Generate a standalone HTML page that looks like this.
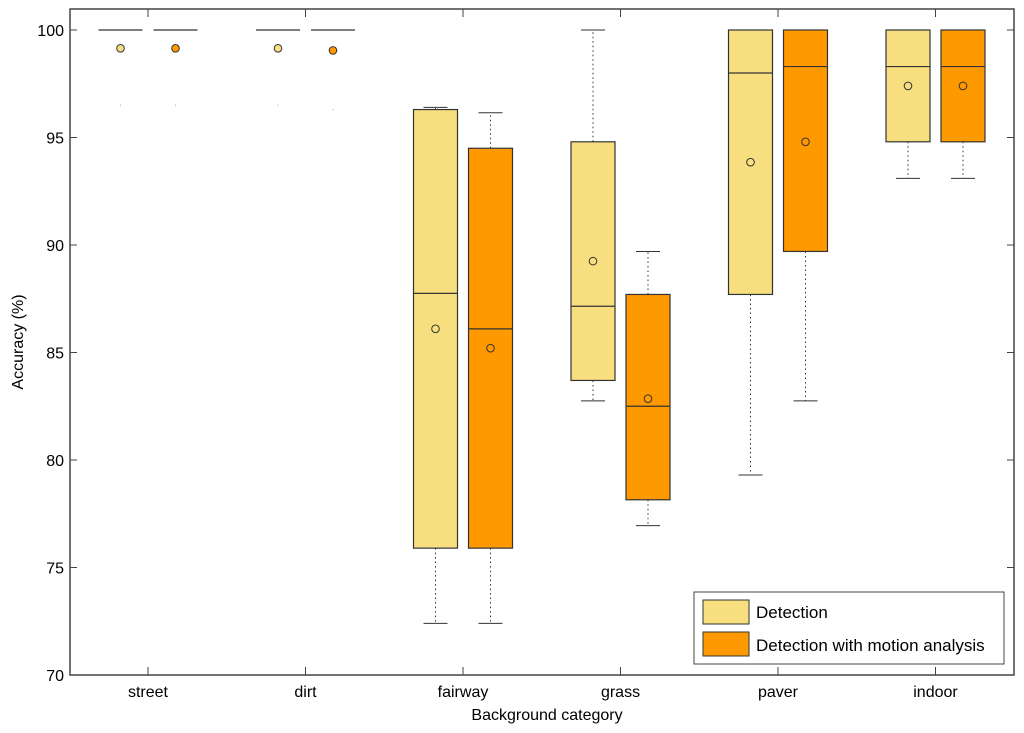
<!DOCTYPE html>
<html><head><meta charset="utf-8"><style>
html,body{margin:0;padding:0;background:#fff;}
svg{display:block;font-family:"Liberation Sans",Arial,sans-serif;}
</style></head><body>
<svg id="chart" width="1024" height="733" viewBox="0 0 1024 733" xmlns="http://www.w3.org/2000/svg"></svg>
<script>
const categories = ["street","dirt","fairway","grass","paver","indoor"];
const detQ1   = [100,100,75.9,83.7,87.7,94.8];
const detMed  = [100,100,87.75,87.15,98.0,98.3];
const detQ3   = [100,100,96.3,94.8,100,100];
const detLo   = [100,100,72.4,82.75,79.3,93.1];
const detHi   = [100,100,96.4,100,100,100];
const detMean = [99.15,99.15,86.1,89.25,93.85,97.4];
const detOut  = [96.5,96.5,null,null,null,null];
const motQ1   = [100,100,75.9,78.15,89.7,94.8];
const motMed  = [100,100,86.1,82.5,98.3,98.3];
const motQ3   = [100,100,94.5,87.7,100,100];
const motLo   = [100,100,72.4,76.95,82.75,93.1];
const motHi   = [100,100,96.15,89.7,100,100];
const motMean = [99.15,99.05,85.2,82.85,94.8,97.4];
const motOut  = [96.5,96.3,null,null,null,null];
const yTicks = [70,75,80,85,90,95,100];

const svg = document.getElementById('chart');
const NS = "http://www.w3.org/2000/svg";
const L=70, R=1014, T=9, B=675;
function y(v){ return 675 - (v-70)*(645/30); }
function xc(i){ return 148 + i*157.5; }
function mk(tag, attrs, parent){
  const e=document.createElementNS(NS,tag);
  for(const k in attrs) e.setAttribute(k,attrs[k]);
  (parent||svg).appendChild(e); return e;
}
const frame = mk('rect',{x:L,y:T,width:R-L,height:B-T,fill:'none',stroke:'#444','stroke-width':1.5});


yTicks.forEach(v=>{
  mk('line',{x1:L,x2:L+7,y1:y(v),y2:y(v),stroke:'#444'});
  mk('line',{x1:R,x2:R-7,y1:y(v),y2:y(v),stroke:'#444'});
  const t=mk('text',{x:L-6,y:y(v)+6,'text-anchor':'end','font-size':16,fill:'#000'});
  t.textContent=v;
  
  
});
categories.forEach((c,i)=>{
  mk('line',{x1:xc(i),x2:xc(i),y1:B,y2:B-8,stroke:'#444'});
  mk('line',{x1:xc(i),x2:xc(i),y1:T,y2:T+8,stroke:'#444'});
  const t=mk('text',{x:xc(i),y:B+22,'text-anchor':'middle','font-size':16,fill:'#000'});
  t.textContent=c;
  
  
});
function drawBox(i,off,q1,med,q3,lo,hi,mean,out,color,name){
  const cx=xc(i)+off, w=44;
  const g=mk('g',{});
  
  
  mk('line',{x1:cx,x2:cx,y1:y(q3),y2:y(hi),stroke:'#333','stroke-dasharray':'1.5,3'},g);
  mk('line',{x1:cx,x2:cx,y1:y(q1),y2:y(lo),stroke:'#333','stroke-dasharray':'1.5,3'},g);
  if(hi!==q3) mk('line',{x1:cx-12,x2:cx+12,y1:y(hi),y2:y(hi),stroke:'#333'},g);
  if(lo!==q1) mk('line',{x1:cx-12,x2:cx+12,y1:y(lo),y2:y(lo),stroke:'#333'},g);
  if(q3>q1) mk('rect',{x:cx-w/2,y:y(q3),width:w,height:y(q1)-y(q3),fill:color,stroke:'#333','stroke-width':1.2},g);
  mk('line',{x1:cx-w/2,x2:cx+w/2,y1:y(med),y2:y(med),stroke:'#333','stroke-width':1.2},g);
  if(out!==null) mk('rect',{x:cx-0.5,y:y(out)-0.5,width:1,height:1,fill:'#aaa'},g);
  const inner = q3>q1 ? 'none' : color;
  mk('circle',{cx:cx,cy:y(mean),r:3.8,fill:inner,stroke:'#333','stroke-width':1},g);
}
categories.forEach((c,i)=>{
  drawBox(i,-27.5,detQ1[i],detMed[i],detQ3[i],detLo[i],detHi[i],detMean[i],detOut[i],'#f7df80','detection-box');
  drawBox(i,27.5,motQ1[i],motMed[i],motQ3[i],motLo[i],motHi[i],motMean[i],motOut[i],'#ff9900','motion-box');
});
const lg=mk('g',{});


mk('rect',{x:694,y:592,width:310,height:72,fill:'#fff',stroke:'#444'},lg);
mk('rect',{x:703,y:600,width:46,height:24,fill:'#f7df80',stroke:'#333'},lg);
mk('rect',{x:703,y:632,width:46,height:24,fill:'#ff9900',stroke:'#333'},lg);
let t1=mk('text',{x:756,y:618,'font-size':17},lg); t1.textContent='Detection';


let t2=mk('text',{x:756,y:651,'font-size':17},lg); t2.textContent='Detection with motion analysis';


const xt=mk('text',{x:547,y:720,'text-anchor':'middle','font-size':16}); xt.textContent='Background category';


const yt=mk('text',{x:0,y:0,'text-anchor':'middle','font-size':16,transform:'translate(23,342) rotate(-90)'}); yt.textContent='Accuracy (%)';


</script>
</body></html>
